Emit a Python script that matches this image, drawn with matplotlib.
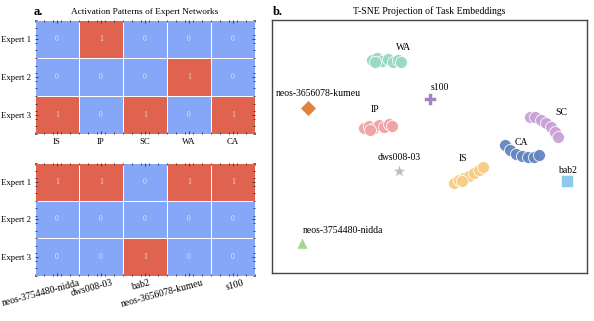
import numpy as np
import matplotlib
matplotlib.use("Agg")
import matplotlib.pyplot as plt
from matplotlib.colors import ListedColormap
from matplotlib.ticker import MultipleLocator
from matplotlib.transforms import ScaledTranslation

plt.rcParams['font.family'] = ['Liberation Serif', 'DejaVu Serif']

# ---- data ----
experts = ["Expert 1", "Expert 2", "Expert 3"]
tasks_top = ["IS", "IP", "SC", "WA", "CA"]
act_top = [[0, 1, 0, 0, 0],
           [0, 0, 0, 1, 0],
           [1, 0, 1, 0, 1]]
tasks_bot = ["neos-3754480-nidda", "dws008-03", "bab2", "neos-3656078-kumeu", "s100"]
act_bot = [[1, 1, 0, 1, 1],
           [0, 0, 0, 0, 0],
           [0, 0, 1, 0, 0]]

# t-SNE clusters (arbitrary embedding units)
cluster_names = ["WA", "IP", "SC", "CA", "IS"]
cluster_colors = ["#9ad8c0", "#f2a2a2", "#c9a2d6", "#6385c2", "#f7cd85"]
cl_x = {
    "WA": [100, 105, 110, 116, 121, 126, 129, 103],
    "IP": [92, 97, 102, 107, 112, 117, 120, 98],
    "SC": [258, 263, 269, 274, 279, 283, 286],
    "CA": [233, 238, 244, 250, 256, 262, 267],
    "IS": [182, 187, 192, 197, 202, 207, 211, 190],
}
cl_y = {
    "WA": [213, 215, 212, 214, 211, 213, 211, 211],
    "IP": [145, 147, 145, 148, 146, 149, 147, 143],
    "SC": [156, 156, 153, 150, 146, 141, 136],
    "CA": [128, 123, 119, 117, 116, 116, 118],
    "IS": [90, 93, 95, 97, 100, 103, 106, 92],
}
cl_label_xy = {"WA": (132, 225), "IP": (103, 164), "SC": (289, 161),
               "CA": (249, 131), "IS": (191, 115)}

single_names = ["s100", "neos-3656078-kumeu", "dws008-03", "bab2", "neos-3754480-nidda"]
single_x = [158, 36, 127, 295, 30]
single_y = [174, 165, 102, 92, 30]
single_markers = ["P", "D", "*", "s", "^"]
single_colors = ["#a583c2", "#e0823e", "#bdbdbd", "#8bcaea", "#a9d68a"]
single_label_xy = [(168, 186), (46, 180), (127, 116), (295, 103), (71, 43)]

# horizontal nudges (pixels) of the rotated bottom tick labels
label_nudge_px = [-16, -9, -4, -27, 2]

# ---- figure ----
fig = plt.figure(figsize=(5.94, 3.21), dpi=100)
cmap = ListedColormap(["#86a6f7", "#e0634f"])


def heat(ax, data, xlabels, rotate):
    arr = np.array(data)
    ax.pcolormesh(arr, cmap=cmap, vmin=0, vmax=1, edgecolors="white", linewidth=0.6)
    ax.set_xlim(0, arr.shape[1])
    ax.set_ylim(arr.shape[0], 0)
    for i in range(arr.shape[0]):
        for j in range(arr.shape[1]):
            ax.text(j + 0.5, i + 0.5, str(arr[i, j]), ha="center", va="center",
                    color="#f0f0f0", fontsize=5.5, alpha=0.85)
    ax.set_yticks(np.arange(arr.shape[0]) + 0.5)
    ax.set_yticklabels(experts, fontsize=6.3)
    ax.set_xticks(np.arange(arr.shape[1]) + 0.5)
    ax.xaxis.set_minor_locator(MultipleLocator(0.2))
    ax.yaxis.set_minor_locator(MultipleLocator(0.2))
    ax.tick_params(which="both", direction="in", top=True, right=True,
                   color="#333333", width=0.6)
    ax.tick_params(which="major", length=2.5, pad=3)
    ax.tick_params(which="minor", length=1.3)
    if rotate:
        labs = ax.set_xticklabels(xlabels, fontsize=7, rotation=15, ha="center")
        for lab, dx in zip(labs, label_nudge_px):
            lab.set_transform(lab.get_transform() +
                              ScaledTranslation(dx / 100, 2 / 100, fig.dpi_scale_trans))
    else:
        ax.set_xticklabels(xlabels, fontsize=6.3)
    for s in ax.spines.values():
        s.set_visible(False)


ax1 = fig.add_axes([0.0589, 0.5826, 0.3704, 0.3551])
heat(ax1, act_top, tasks_top, False)
ax1.set_title("Activation Patterns of Expert Networks", fontsize=6.7, pad=4)

ax2 = fig.add_axes([0.0589, 0.1402, 0.3704, 0.3520])
heat(ax2, act_bot, tasks_bot, True)

ax3 = fig.add_axes([0.4579, 0.1495, 0.5303, 0.7882])
for name, col in zip(cluster_names, cluster_colors):
    ax3.scatter(cl_x[name], cl_y[name], s=75, color=col, edgecolors="white",
                linewidths=0.6, alpha=0.95, zorder=3)
    lx, ly = cl_label_xy[name]
    ax3.text(lx, ly, name, fontsize=7, ha="center", va="center")
for n, x, y, m, c, (lx, ly) in zip(single_names, single_x, single_y, single_markers,
                                   single_colors, single_label_xy):
    ax3.scatter([x], [y], marker=m, s=65 if m != "*" else 100, color=c,
                edgecolors="white", linewidths=0.4, zorder=3)
    ax3.text(lx, ly, n, fontsize=7, ha="center", va="center")
ax3.set_xlim(0, 315)
ax3.set_ylim(0, 253)
ax3.set_xticks([])
ax3.set_yticks([])
for s in ax3.spines.values():
    s.set_color("#444444")
    s.set_linewidth(1.0)
ax3.set_title("T-SNE Projection of Task Embeddings", fontsize=7, pad=4)

fig.text(0.057, 0.962, "a.", fontsize=9, fontweight="bold", va="center")
fig.text(0.459, 0.962, "b.", fontsize=9, fontweight="bold", va="center")

fig.savefig("out.png", dpi=100)
